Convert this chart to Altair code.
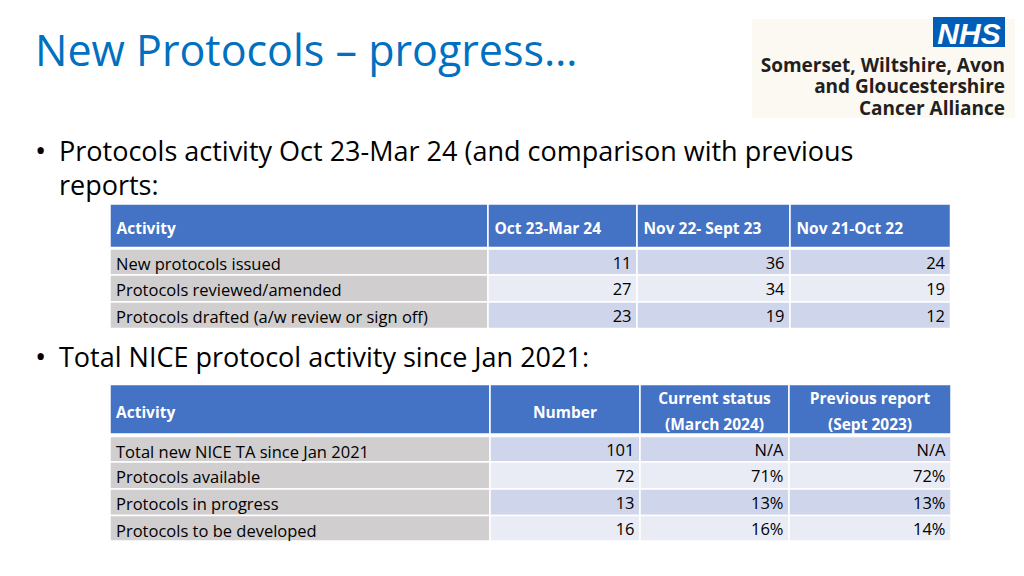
import altair as alt
import pandas as pd

# ---------------- content ----------------
TITLE = "New Protocols – progress…"
BULLET1_LINES = ["Protocols activity Oct 23-Mar 24 (and comparison with previous", "reports:"]
BULLET2_LINES = ["Total NICE protocol activity since Jan 2021:"]

t1_header = ["Activity", "Oct 23-Mar 24", "Nov 22- Sept 23", "Nov 21-Oct 22"]
t1_activities = ["New protocols issued", "Protocols reviewed/amended",
                 "Protocols drafted (a/w review or sign off)"]
t1_oct23_mar24 = [11, 27, 23]
t1_nov22_sep23 = [36, 34, 19]
t1_nov21_oct22 = [24, 19, 12]

t2_header = [["Activity"], ["Number"], ["Current status", "(March 2024)"], ["Previous report", "(Sept 2023)"]]
t2_activities = ["Total new NICE TA since Jan 2021", "Protocols available",
                 "Protocols in progress", "Protocols to be developed"]
t2_number = [101, 72, 13, 16]
t2_current = ["N/A", "71%", "13%", "16%"]
t2_previous = ["N/A", "72%", "13%", "14%"]

LOGO_MARK = "NHS"
LOGO_LINES = ["Somerset, Wiltshire, Avon", "and Gloucestershire", "Cancer Alliance"]

# ---------------- layout (page pixels) ----------------
FONT = "Open Sans"
HEAD_BLUE = "#4472C4"
GRAY = "#D0CECE"
BLUE_DARK = "#CFD5EA"
BLUE_LIGHT = "#E9EBF5"
TITLE_BLUE = "#0070C0"

T1_COLS = [110, 488, 637, 790, 950.5]
T1_HEAD = (204, 247.5)
T1_ROWS = [249, 275, 302, 328.5]
T2_COLS = [110, 490, 640, 789, 951]
T2_HEAD = (384.5, 434)
T2_ROWS = [436.5, 462, 489, 515.5, 541]

XS = alt.Scale(domain=[8, 1016], nice=False, zero=False)
YS = alt.Scale(domain=[8, 568], nice=False, zero=False, reverse=True)

rects, texts = [], []


def add_rect(x, x2, y, y2, fill, group="cell"):
    rects.append(dict(x=x, x2=x2, y=y, y2=y2, fill=fill, group=group))


def add_text(text, x, y, style):
    texts.append(dict(text=text, x=x, y=y, style=style))


# ---- table 1 ----
for i in range(4):
    add_rect(T1_COLS[i], T1_COLS[i + 1], T1_HEAD[0], T1_HEAD[1], HEAD_BLUE)
    add_text(t1_header[i], T1_COLS[i] + 6.5, T1_HEAD[0] + 30, "head_left")
t1_cols_vals = [t1_oct23_mar24, t1_nov22_sep23, t1_nov21_oct22]
for r in range(len(t1_activities)):
    top, bot = T1_ROWS[r], T1_ROWS[r + 1]
    add_rect(T1_COLS[0], T1_COLS[1], top, bot, GRAY)
    add_text(t1_activities[r], T1_COLS[0] + 6, top + 21, "body_left")
    for c in range(3):
        add_rect(T1_COLS[c + 1], T1_COLS[c + 2], top, bot, BLUE_DARK if r % 2 == 0 else BLUE_LIGHT)
        add_text(str(t1_cols_vals[c][r]), T1_COLS[c + 2] - 5.5, top + 19.5, "body_right")

# ---- table 2 ----
for i in range(4):
    add_rect(T2_COLS[i], T2_COLS[i + 1], T2_HEAD[0], T2_HEAD[1], HEAD_BLUE)
    lines = t2_header[i]
    if i == 0:
        add_text(lines[0], T2_COLS[0] + 6, 417.5, "head_left")
    elif len(lines) == 1:
        add_text(lines[0], (T2_COLS[i] + T2_COLS[i + 1]) / 2, 417.5, "head_center")
    else:
        for k, ln in enumerate(lines):
            add_text(ln, (T2_COLS[i] + T2_COLS[i + 1]) / 2, 404 + 26 * k, "head_center")
t2_cols_vals = [t2_number, t2_current, t2_previous]
for r in range(len(t2_activities)):
    top, bot = T2_ROWS[r], T2_ROWS[r + 1]
    add_rect(T2_COLS[0], T2_COLS[1], top, bot, GRAY)
    add_text(t2_activities[r], T2_COLS[0] + 6, top + 21, "body_left")
    for c in range(3):
        add_rect(T2_COLS[c + 1], T2_COLS[c + 2], top, bot, BLUE_DARK if r % 2 == 0 else BLUE_LIGHT)
        add_text(str(t2_cols_vals[c][r]), T2_COLS[c + 2] - 5.5, top + 19.5, "body_right")

# ---- title, bullets ----
add_text(TITLE, 35, 66, "title")
for k, ln in enumerate(BULLET1_LINES):
    add_text(ln, 59, 160.5 + 34 * k, "bullet")
add_text("•", 35, 160.5, "bullet_dot")
for k, ln in enumerate(BULLET2_LINES):
    add_text(ln, 59, 367, "bullet")
add_text("•", 35, 367, "bullet_dot")

# ---- logo ----
add_rect(752, 1015, 19, 118, "#FBF9F2", "logo")
add_rect(933, 1005, 17, 47, "#005EB8", "logo")
add_text(LOGO_MARK, 969, 43.5, "nhs")
for k, ln in enumerate(LOGO_LINES):
    add_text(ln, 1005, 71.5 + 21.5 * k, "logo")

rect_df = pd.DataFrame(rects)
text_df = pd.DataFrame(texts)

enc = dict(x=alt.X("x:Q", scale=XS, axis=None), y=alt.Y("y:Q", scale=YS, axis=None))

logo_bg = alt.Chart(rect_df[rect_df.group == "logo"]).mark_rect().encode(
    x=alt.X("x:Q", scale=XS, axis=None), x2="x2:Q",
    y=alt.Y("y:Q", scale=YS, axis=None), y2="y2:Q",
    color=alt.Color("fill:N", scale=None))

cells = alt.Chart(rect_df[rect_df.group == "cell"]).mark_rect(stroke="white", strokeWidth=1.5).encode(
    x=alt.X("x:Q", scale=XS, axis=None), x2="x2:Q",
    y=alt.Y("y:Q", scale=YS, axis=None), y2="y2:Q",
    color=alt.Color("fill:N", scale=None))

STYLES = {
    "title": dict(align="left", fontSize=43, fontWeight="normal", color=TITLE_BLUE, font=FONT),
    "bullet": dict(align="left", fontSize=27, fontWeight="normal", color="#000000", font=FONT),
    "bullet_dot": dict(align="left", fontSize=30, fontWeight="normal", color="#000000", font=FONT),
    "head_left": dict(align="left", fontSize=15.5, fontWeight="bold", color="#FFFFFF", font=FONT),
    "head_center": dict(align="center", fontSize=15.5, fontWeight="bold", color="#FFFFFF", font=FONT),
    "body_left": dict(align="left", fontSize=16.5, fontWeight="normal", color="#000000", font=FONT),
    "body_right": dict(align="right", fontSize=16.5, fontWeight="normal", color="#000000", font=FONT),
    "nhs": dict(align="center", fontSize=30, fontWeight="bold", fontStyle="italic", color="#FFFFFF",
                font="Liberation Sans"),
    "logo": dict(align="right", fontSize=19, fontWeight="bold", color="#231F20", font=FONT),
}

text_layers = []
for name, st in STYLES.items():
    sub = text_df[text_df["style"] == name]
    if len(sub) == 0:
        continue
    text_layers.append(
        alt.Chart(sub).mark_text(baseline="alphabetic", **st).encode(text="text:N", **enc))

chart = alt.layer(logo_bg, cells, *text_layers).properties(
    width=1008, height=560,
    autosize=alt.AutoSizeParams(type="none"),
    padding=0,
    background="white",
).configure_view(stroke=None)

chart.save("out.html", embed_options={"renderer": "svg", "actions": False})
